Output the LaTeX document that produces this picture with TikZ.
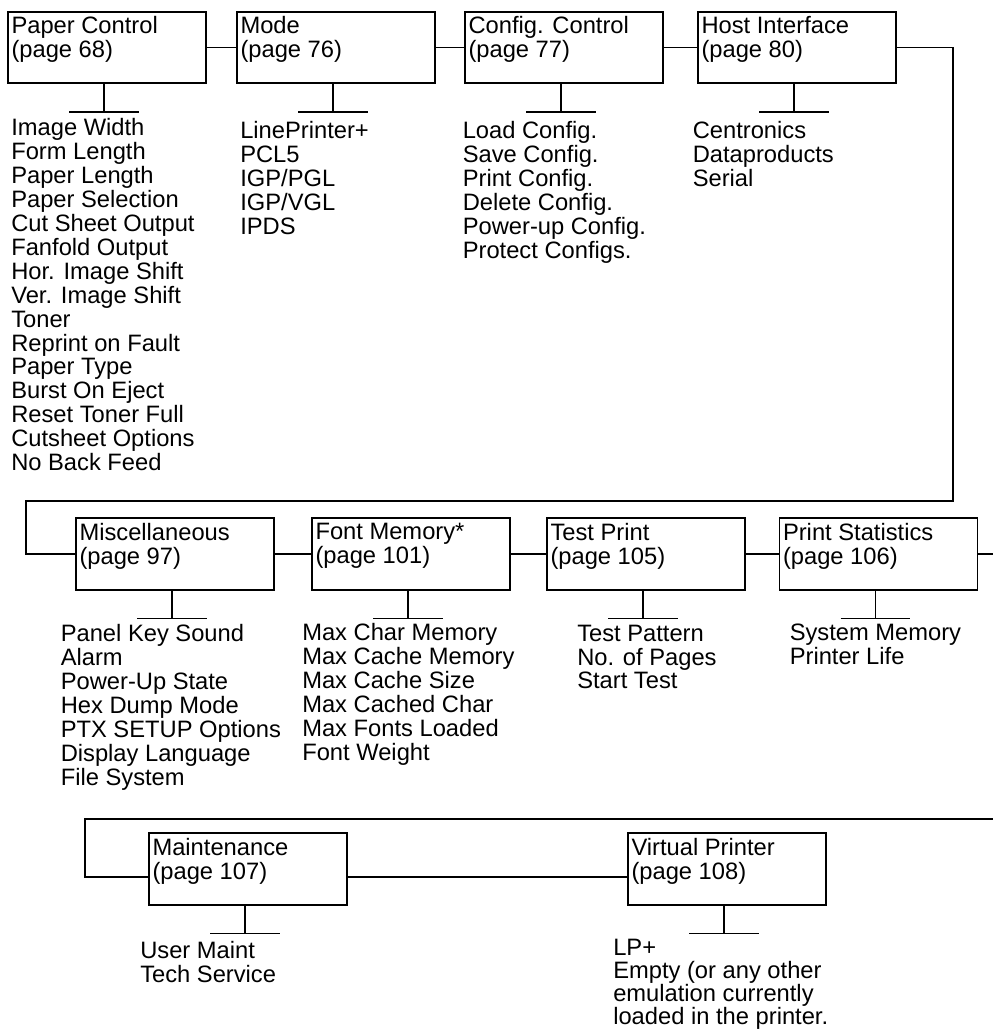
\documentclass[tikz,border=0pt]{standalone}
\usepackage{fontspec}
\setmainfont{Liberation Sans}
\newcommand{\menufont}{\fontsize{13.5}{13.6}\selectfont}
\begin{document}
\begin{tikzpicture}[x=0.02cm, y=-0.02cm, line width=0.9pt,
    menubox/.style={draw, rectangle, minimum width=3.96cm, minimum height=1.43cm, inner sep=0pt},
    boxlabel/.style={anchor=north west, align=left, inner sep=0pt, font=\menufont},
    itemlist/.style={anchor=north west, align=left, inner sep=0pt, font=\menufont}]

    % Fix the page size
    \useasboundingbox (0,0) rectangle (993,1029);

    % Stem and bar under a menu box
    \def\branch#1{%
        \draw ([xshift=-0.06cm]#1.south) -- ++(0,28) coordinate (#1Bar);
        \draw ([xshift=-0.7cm]#1Bar) -- ([xshift=0.7cm]#1Bar);
    }

    % First row of menus
    \node[menubox] (paper) at (107,47.5) {};
    \node[menubox] (mode) at (336,47.5) {};
    \node[menubox] (config) at (564,47.5) {};
    \node[menubox] (host) at (797,47.5) {};

    \node[boxlabel] (paperText) at ([shift={(0.07cm,-0.1cm)}]paper.north west) {Paper Control\\(page 68)};
    \node[boxlabel] (modeText) at ([shift={(0.07cm,-0.1cm)}]mode.north west) {Mode\\(page 76)};
    \node[boxlabel] (configText) at ([shift={(0.07cm,-0.1cm)}]config.north west) {Config. Control\\(page 77)};
    \node[boxlabel] (hostText) at ([shift={(0.07cm,-0.1cm)}]host.north west) {Host Interface\\(page 80)};

    \branch{paper}
    \branch{mode}
    \branch{config}
    \branch{host}

    \node[itemlist] (paperList) at (10.5,118) {Image Width\\Form Length\\Paper Length\\Paper Selection\\Cut Sheet Output\\Fanfold Output\\Hor. Image Shift\\Ver. Image Shift\\Toner\\Reprint on Fault\\Paper Type\\Burst On Eject\\Reset Toner Full\\Cutsheet Options\\No Back Feed};
    \node[itemlist] (modeList) at (239.5,121) {LinePrinter+\\PCL5\\IGP/PGL\\IGP/VGL\\IPDS};
    \node[itemlist] (configList) at (462,121) {Load Config.\\Save Config.\\Print Config.\\Delete Config.\\Power-up Config.\\Protect Configs.};
    \node[itemlist] (hostList) at (692,121) {Centronics\\Dataproducts\\Serial};

    % Second row of menus
    \node[menubox] (misc) at (175,554) {};
    \node[menubox] (fontmem) at (411,554) {};
    \node[menubox] (test) at (646,554) {};
    \node[menubox] (stats) at (878.5,554) {};

    \node[boxlabel] (miscText) at ([shift={(0.07cm,-0.1cm)}]misc.north west) {Miscellaneous\\(page 97)};
    \node[boxlabel] (fontmemText) at ([shift={(0.07cm,-0.1cm)}]fontmem.north west) {Font Memory*\\(page 101)};
    \node[boxlabel] (testText) at ([shift={(0.07cm,-0.1cm)}]test.north west) {Test Print\\(page 105)};
    \node[boxlabel] (statsText) at ([shift={(0.07cm,-0.1cm)}]stats.north west) {Print Statistics\\(page 106)};

    \branch{misc}
    \branch{fontmem}
    \branch{test}
    \branch{stats}

    \node[itemlist] (miscList) at (60,624) {Panel Key Sound\\Alarm\\Power-Up State\\Hex Dump Mode\\PTX SETUP Options\\Display Language\\File System};
    \node[itemlist] (fontmemList) at (301.5,623) {Max Char Memory\\Max Cache Memory\\Max Cache Size\\Max Cached Char\\Max Fonts Loaded\\Font Weight};
    \node[itemlist] (testList) at (576.5,624) {Test Pattern\\No. of Pages\\Start Test};
    \node[itemlist] (statsList) at (789,623) {System Memory\\Printer Life};

    % Third row of menus
    \node[menubox] (maint) at (248,869) {};
    \node[menubox] (virtual) at (727,869) {};

    \node[boxlabel] (maintText) at ([shift={(0.07cm,-0.1cm)}]maint.north west) {Maintenance\\(page 107)};
    \node[boxlabel] (virtualText) at ([shift={(0.07cm,-0.1cm)}]virtual.north west) {Virtual Printer\\(page 108)};

    \branch{maint}
    \branch{virtual}

    \node[itemlist] (maintList) at (139.5,941) {User Maint\\Tech Service};
    \node[itemlist, font=\fontsize{13.5}{13.2}\selectfont] (virtualList) at (612.5,938) {LP+\\Empty (or any other\\emulation currently\\loaded in the printer.};

    % Links along the first row
    \draw (paper.east) -- (mode.west);
    \draw (mode.east) -- (config.west);
    \draw (config.east) -- (host.west);

    % Carry over to the second row
    \coordinate (turnA) at (953,501);
    \coordinate (turnB) at (26,501);
    \draw (host.east) -| (turnA) -- (turnB) |- (misc.west);

    % Links along the second row
    \draw (misc.east) -- (fontmem.west);
    \draw (fontmem.east) -- (test.west);
    \draw (test.east) -- (stats.west);
    \coordinate (exitB) at (993,554);
    \draw (stats.east) -- (exitB);

    % Third row, coming in from the right
    \coordinate (entryC) at (993,819);
    \coordinate (turnC) at (85,819);
    \draw (entryC) -- (turnC) |- ([yshift=-0.16cm]maint.west);
    \draw ([yshift=-0.16cm]maint.east) -- ([yshift=-0.16cm]virtual.west);

\end{tikzpicture}
\end{document}
